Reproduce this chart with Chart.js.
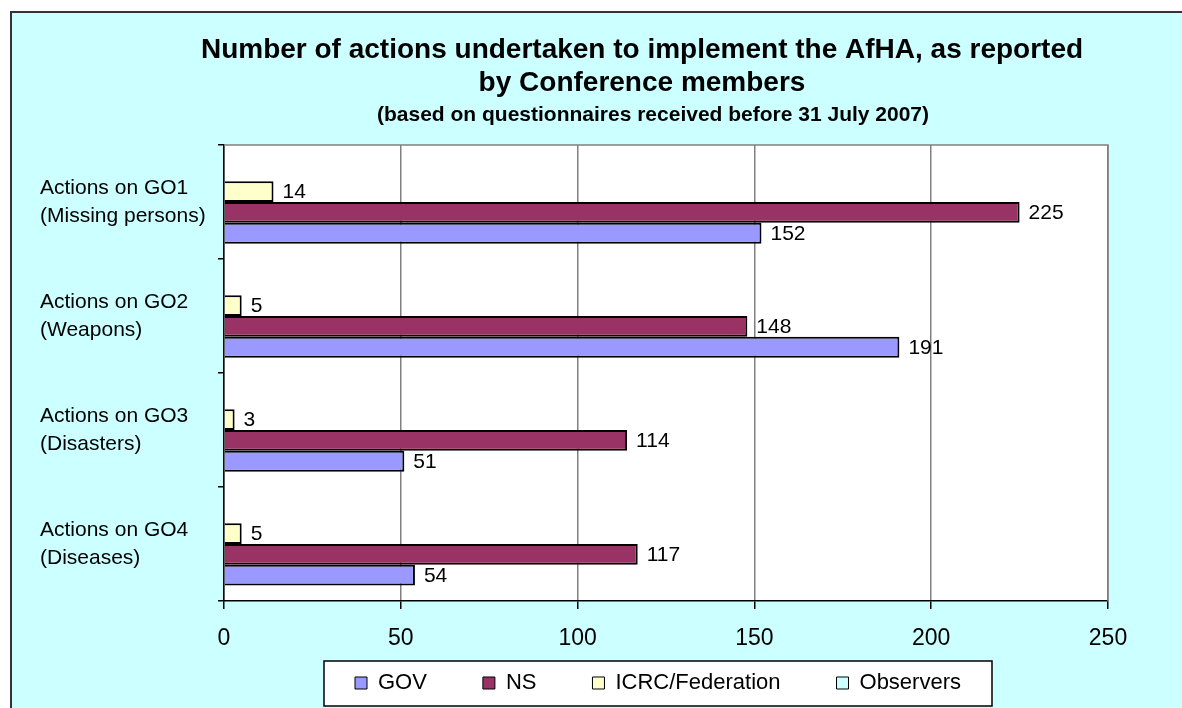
<!DOCTYPE html>
<html>
<head>
<meta charset="utf-8">
<script src="https://cdn.jsdelivr.net/npm/chart.js@4.4.0/dist/chart.umd.min.js"></script>
<style>
  html, body { margin: 0; padding: 0; background: #fff; overflow: hidden; }
  #frame { position: absolute; left: 10px; top: 11px; width: 1200px; height: 720px;
           background: #CCFFFF; border-left: 2px solid #333; border-top: 2px solid #333; }
  #wrap { position: absolute; left: 0; top: 0; width: 1182px; height: 708px; }
</style>
</head>
<body>
<div id="frame"></div>
<div id="wrap"><canvas id="chart" width="1182" height="708"></canvas></div>
<script>
// data
const categories = [
    ['Actions on GO1', '(Missing persons)'],
    ['Actions on GO2', '(Weapons)'],
    ['Actions on GO3', '(Disasters)'],
    ['Actions on GO4', '(Diseases)']
];
const govValues = [152, 191, 51, 54];
const nsValues = [225, 148, 114, 117];
const icrcValues = [14, 5, 3, 5];
const observerValues = [null, null, null, null];   // no bars shown
const xTicks = [0, 50, 100, 150, 200, 250];

const TITLE = ['Number of actions undertaken to implement the AfHA, as reported', 'by Conference members'];
const SUBTITLE = '(based on questionnaires received before 31 July 2007)';
const FONT = "'Liberation Sans', Arial, sans-serif";

// nudge title, subtitle and legend to where the original has them
const nudgeBoxes = {
    id: 'nudgeBoxes',
    afterLayout(chart) {
        const lg = chart.legend;
        lg.top -= 36;               // legend clips to its box, so only grow it upward
        lg.left -= 8; lg.right -= 8;
        chart.titleBlock.left -= 24; chart.titleBlock.right -= 24;
        chart.boxes.forEach(b => {
            if (b !== chart.titleBlock && b.options && b.options.text === SUBTITLE) {
                b.left -= 13; b.right -= 13;
            }
        });
    }
};

// white plot area + boxed legend
const frameBoxes = {
    id: 'frameBoxes',
    beforeDraw(chart) {
        const { ctx, chartArea: a, legend } = chart;
        ctx.save();
        ctx.fillStyle = '#fff';
        ctx.fillRect(a.left, a.top, a.right - a.left, a.bottom - a.top);
        const boxes = legend.legendHitBoxes;
        if (boxes && boxes.length) {
            const first = boxes[0], last = boxes[boxes.length - 1];
            const cy = first.top + first.height / 2;
            const x0 = first.left - 31, x1 = last.left + last.width + 31;
            ctx.fillRect(x0, cy - 22, x1 - x0, 45);
            ctx.strokeStyle = '#000';
            ctx.lineWidth = 1.5;
            ctx.strokeRect(x0, cy - 22, x1 - x0, 45);
        }
        ctx.restore();
    },
    afterDraw(chart) {
        const { ctx, chartArea: a } = chart;
        ctx.save();
        ctx.strokeStyle = '#808080';
        ctx.lineWidth = 1.5;
        ctx.beginPath();
        ctx.moveTo(a.left, a.top);
        ctx.lineTo(a.right, a.top);
        ctx.lineTo(a.right, a.bottom);
        ctx.stroke();
        ctx.restore();
    }
};

// numbers at the end of each bar
const valueLabels = {
    id: 'valueLabels',
    afterDatasetsDraw(chart) {
        const ctx = chart.ctx;
        ctx.save();
        ctx.font = '21px ' + FONT;
        ctx.fillStyle = '#000';
        ctx.textBaseline = 'middle';
        ctx.textAlign = 'left';
        chart.data.datasets.forEach((ds, di) => {
            chart.getDatasetMeta(di).data.forEach((bar, i) => {
                const v = ds.data[i];
                if (v == null) return;
                ctx.fillText(v, bar.x + 9, bar.y + 1);
            });
        });
        ctx.restore();
    }
};

const ctx = document.getElementById('chart').getContext('2d');
new Chart(ctx, {
    type: 'bar',
    data: {
        labels: categories,
        datasets: [
            { label: 'Observers', data: observerValues, backgroundColor: '#CCFFFF' },
            { label: 'ICRC/Federation', data: icrcValues, backgroundColor: '#FFFFCC' },
            { label: 'NS', data: nsValues, backgroundColor: '#993366' },
            { label: 'GOV', data: govValues, backgroundColor: '#9999FF' }
        ]
    },
    options: {
        indexAxis: 'y',
        responsive: false,
        animation: false,
        layout: { padding: { left: 40, right: 74, top: 20, bottom: 4 } },
        datasets: {
            bar: {
                borderColor: '#000',
                borderWidth: 2,
                categoryPercentage: 0.73,
                barPercentage: 1.0
            }
        },
        plugins: {
            title: {
                display: true,
                fullSize: false,
                text: TITLE,
                color: '#000',
                font: { family: FONT, size: 28, weight: 'bold', lineHeight: 1.18 },
                padding: { top: 13.5, bottom: 0 }
            },
            subtitle: {
                display: true,
                fullSize: false,
                text: SUBTITLE,
                color: '#000',
                font: { family: FONT, size: 21, weight: 'bold', lineHeight: 1.2 },
                padding: { top: 2.9, bottom: 17.4 }
            },
            legend: {
                position: 'bottom',
                fullSize: false,
                maxHeight: 52,
                labels: {
                    color: '#000',
                    font: { family: FONT, size: 22 },
                    boxWidth: 12,
                    boxHeight: 12,
                    padding: 56,
                    sort: (a, b) => b.datasetIndex - a.datasetIndex,
                    generateLabels: (chart) => Chart.defaults.plugins.legend.labels.generateLabels(chart)
                        .map(l => Object.assign(l, { lineWidth: 1 }))
                }
            },
            tooltip: { enabled: false }
        },
        scales: {
            x: {
                min: 0,
                max: 250,
                afterFit: (scale) => { scale.height = 51; },
                afterBuildTicks: (scale) => { scale.ticks = xTicks.map(v => ({ value: v })); },
                ticks: { color: '#000', font: { family: FONT, size: 23 }, padding: 16 },
                grid: { color: '#808080', tickColor: '#000', tickLength: 8, lineWidth: 1.5 },
                border: { color: '#000', width: 1.5 }
            },
            y: {
                afterFit: (scale) => { scale.width = 184; },
                ticks: { color: '#000', crossAlign: 'far', font: { family: FONT, size: 21, lineHeight: 1.33 } },
                grid: { drawOnChartArea: false, tickColor: '#000', tickLength: 6, lineWidth: 1.5 },
                border: { color: '#000', width: 1.5 }
            }
        }
    },
    plugins: [nudgeBoxes, frameBoxes, valueLabels]
});
</script>
</body>
</html>
